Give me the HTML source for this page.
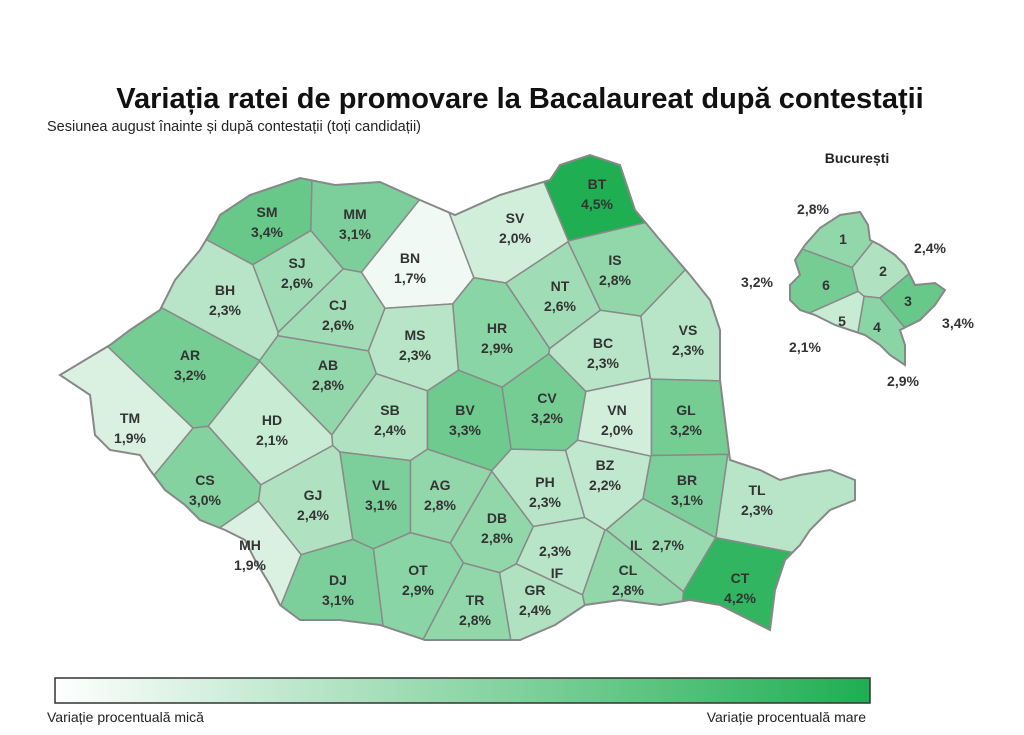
<!DOCTYPE html>
<html><head><meta charset="utf-8"><style>
body{margin:0;background:#fff;width:1024px;height:735px;overflow:hidden;font-family:"Liberation Sans",sans-serif}
svg{position:absolute;left:0;top:0}
</style></head><body>
<svg id="s" width="1024" height="735" viewBox="0 0 1024 735" xmlns="http://www.w3.org/2000/svg">
<defs>
<linearGradient id="lg" x1="0" x2="1"><stop offset="0" stop-color="#ffffff"/><stop offset="1" stop-color="#1fae52"/></linearGradient>
<clipPath id="ro"><polygon id="roP" points=""/></clipPath>
<clipPath id="bu"><polygon id="buP" points=""/></clipPath>
</defs>
<text x="520" y="108" text-anchor="middle" font-size="29" font-weight="bold" fill="#111">Variația ratei de promovare la Bacalaureat după contestații</text>
<text x="47" y="131" font-size="14.5" fill="#222">Sesiunea august înainte și după contestații (toți candidații)</text>
<g id="map" clip-path="url(#ro)"></g>
<polygon id="roO" points="" fill="none" stroke="#888" stroke-width="2"/>
<g id="bmap" clip-path="url(#bu)"></g>
<polygon id="buO" points="" fill="none" stroke="#888" stroke-width="2"/>
<g id="lab" font-size="14" font-weight="bold" fill="#333" text-anchor="middle"></g>
<text x="857" y="163" font-size="14" font-weight="bold" fill="#222" text-anchor="middle">București</text>
<rect x="55" y="678" width="815" height="25" fill="url(#lg)" stroke="#333" stroke-width="1.5"/>
<text x="47" y="722" font-size="14" fill="#222">Variație procentuală mică</text>
<text x="866" y="722" font-size="14" fill="#222" text-anchor="end">Variație procentuală mare</text>
</svg>
<script>
var ro=[[220,215],[250,195],[300,178],[335,185],[380,182],[420,200],[455,215],[500,195],[550,180],[560,165],[590,155],[620,165],[635,210],[660,240],[690,275],[710,300],[720,330],[720,380],[725,420],[730,460],[760,470],[780,480],[800,475],[830,470],[855,480],[855,500],[830,510],[810,530],[800,545],[785,560],[775,590],[770,630],[720,605],[690,600],[660,605],[620,600],[585,605],[555,625],[520,640],[470,640],[425,640],[380,625],[340,620],[300,620],[280,605],[270,585],[255,560],[245,540],[225,530],[200,520],[185,505],[165,490],[150,470],[140,455],[110,450],[95,435],[90,395],[60,375],[85,360],[110,345],[130,330],[160,310],[175,280],[200,250],[215,225]];
var bu=[[795,260],[805,245],[820,228],[840,215],[860,212],[868,225],[870,240],[880,245],[895,255],[905,265],[915,285],[935,283],[945,290],[935,305],[920,320],[900,330],[905,345],[905,365],[890,355],[880,345],[865,335],[850,330],[835,325],[815,315],[800,310],[790,300],[790,285],[800,275]];
function ps(a){return a.map(function(p){return p[0]+","+p[1]}).join(" ")}
["roP","roO"].forEach(function(i){document.getElementById(i).setAttribute("points",ps(ro))});
["buP","buO"].forEach(function(i){document.getElementById(i).setAttribute("points",ps(bu))});
var C=[["SM",267,212,3.4],["MM",355,214,3.1],["BT",597,184,4.5],["SV",515,218,2.0],["BN",410,258,1.7],["SJ",297,263,2.6],["BH",225,290,2.3],["CJ",338,305,2.6],["IS",615,260,2.8],["NT",560,286,2.6],["MS",415,335,2.3],["HR",497,328,2.9],["BC",603,343,2.3],["VS",688,330,2.3],["AR",190,355,3.2],["AB",328,365,2.8],["TM",130,418,1.9],["HD",272,420,2.1],["SB",390,410,2.4],["BV",465,410,3.3],["CV",547,398,3.2],["VN",617,410,2.0],["GL",686,410,3.2],["CS",205,480,3.0],["GJ",313,495,2.4],["VL",381,485,3.1],["AG",440,485,2.8],["DB",497,518,2.8],["PH",545,482,2.3],["BZ",605,465,2.2],["BR",687,480,3.1],["TL",757,490,2.3],["MH",250,545,1.9],["DJ",338,580,3.1],["OT",418,570,2.9],["TR",475,600,2.8],["GR",535,590,2.4],["IF",556,550,2.3],["CL",628,570,2.8],["IL",645,545,2.7],["CT",740,578,4.2]];
function col(v){var t=Math.max(0,Math.min(1,(v-1.7)/2.8));t=Math.pow(t,0.85);var a=[240,249,243],b=[31,174,82];return "rgb("+a.map(function(x,i){return Math.round(x+(b[i]-x)*t)}).join(",")+")"}
function cell(seeds,i,box){var poly=box.slice(),s=seeds[i];
for(var j=0;j<seeds.length;j++){if(j==i)continue;var o=seeds[j],nx=o[0]-s[0],ny=o[1]-s[1],mx=(o[0]+s[0])/2,my=(o[1]+s[1])/2;
var f=function(p){return (p[0]-mx)*nx+(p[1]-my)*ny};var out=[];
for(var k=0;k<poly.length;k++){var A=poly[k],B=poly[(k+1)%poly.length],fa=f(A),fb=f(B);
if(fa<=0)out.push(A);if((fa<0&&fb>0)||(fa>0&&fb<0)){var t=fa/(fa-fb);out.push([A[0]+(B[0]-A[0])*t,A[1]+(B[1]-A[1])*t])}}poly=out}return poly}
var NS="http://www.w3.org/2000/svg";
function draw(g,seeds,vals,box){for(var i=0;i<seeds.length;i++){var p=document.createElementNS(NS,"polygon");p.setAttribute("points",ps(cell(seeds,i,box)));p.setAttribute("fill",col(vals[i]));p.setAttribute("stroke","#8a8a8a");p.setAttribute("stroke-width","1.5");g.appendChild(p)}}
var seeds=C.map(function(c){return c[0]=="IL"?[660,540]:c[0]=="IF"?[556,555]:[c[1],c[2]+10]});
draw(document.getElementById("map"),seeds,C.map(function(c){return c[3]}),[[0,100],[1024,100],[1024,680],[0,680]]);
var lab=document.getElementById("lab");
function t(x,y,s,a){var e=document.createElementNS(NS,"text");e.setAttribute("x",x);e.setAttribute("y",y);if(a)e.setAttribute("text-anchor",a);e.textContent=s;lab.appendChild(e)}
C.forEach(function(c){var v=c[3].toFixed(1).replace(".",",")+"%";
if(c[0]=="IL"){t(630,550,"IL","start");t(652,550,v,"start");}
else if(c[0]=="IF"){t(555,556,v);t(557,578,"IF");}
else{t(c[1],c[2]+5,c[0]);t(c[1],c[2]+25,v);}});
var B=[[843,238,2.8,"1"],[883,270,2.4,"2"],[908,300,3.4,"3"],[877,326,2.9,"4"],[842,320,2.1,"5"],[826,284,3.2,"6"]];
draw(document.getElementById("bmap"),B.map(function(b){return [b[0],b[1]]}),B.map(function(b){return b[2]}),[[700,150],[1000,150],[1000,400],[700,400]]);
B.forEach(function(b){t(b[0],b[1]+6,b[3])});
t(813,214,"2,8%");t(930,253,"2,4%");t(757,287,"3,2%");t(958,328,"3,4%");t(805,352,"2,1%");t(903,386,"2,9%");
</script>
</body></html>
